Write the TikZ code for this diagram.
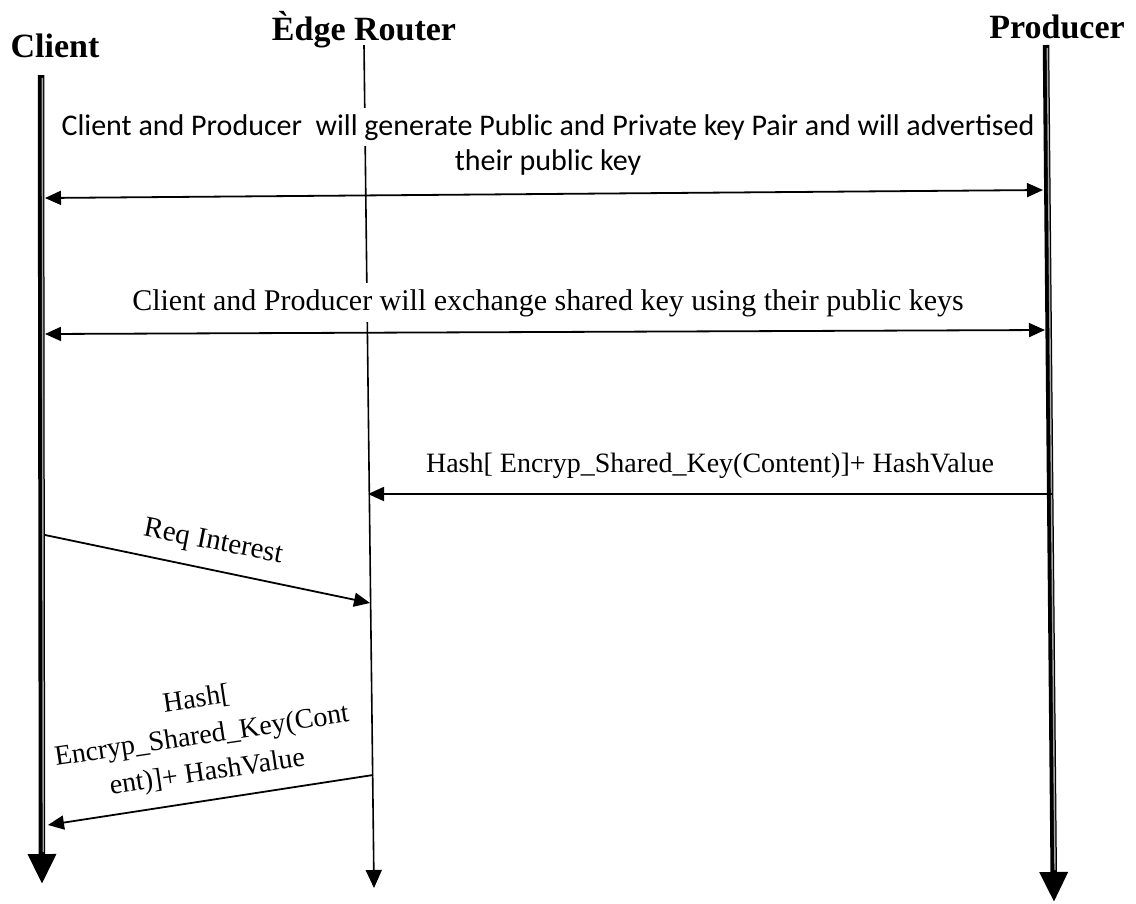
\documentclass[tikz,border=0pt]{standalone}
\usepackage{fontspec}
\setmainfont{Liberation Serif}
\newfontfamily\calfont{Carlito}
\usetikzlibrary{arrows.meta,calc}
\tikzset{
  title/.style={font=\fontsize{34}{40}\selectfont\bfseries, inner sep=0pt},
  lifeline/.style={line width=6.5pt, -{Triangle[width=27pt,length=30pt]}},
  innerline/.style={black!35, line width=1.4pt},
  midline/.style={line width=1.6pt, -{Triangle[width=16pt,length=18pt]}},
  msg/.style={line width=1.8pt},
  tipR/.style={-{Triangle[width=14pt,length=16pt]}},
  tipL/.style={{Triangle[width=14pt,length=16pt]}-},
  tipLR/.style={{Triangle[width=14pt,length=16pt]}-{Triangle[width=14pt,length=16pt]}},
  sanslabel/.style={font=\calfont\fontsize{30}{36}\selectfont, fill=white, align=center, inner xsep=2pt, inner ysep=6pt},
  seriflabel/.style={font=\fontsize{30}{37}\selectfont, fill=white, align=center, inner xsep=2pt, inner ysep=6pt},
  plainlabel/.style={font=\fontsize{28}{37}\selectfont, align=center, inner sep=1pt}
}
\begin{document}
\begin{tikzpicture}[x=1pt,y=-1pt]
\useasboundingbox[fill=white] (0,0) rectangle (1136,903);
% titles
\node[title, anchor=base] (client) at (55,57) {Client};
\node[title, anchor=base] (edge) at (364,40) {Èdge Router};
\node[title, anchor=base] (prod) at (1057,38) {Producer};
% lifeline ends
\coordinate (cT) at (41,75);
\coordinate (cB) at (42,884);
\coordinate (eT) at (364,45);
\coordinate (eB) at (374,888);
\coordinate (pT) at (1046,45);
\coordinate (pB) at (1054,902);
% edge router lifeline (under the labels)
\draw[midline] (eT) -- (eB);
% labels
\node[sanslabel, anchor=base] (t1) at (548,135) {Client and Producer\ \ will generate Public and Private key Pair and will advertised};
\node[sanslabel, anchor=base, inner ysep=8pt] (t1b) at (548,170) {their public key};
\node[seriflabel, anchor=base] (t2) at (548,310) {Client and Producer will exchange shared key using their public keys};
\node[plainlabel, anchor=base] (t3) at (710,472) {Hash[ Encryp\_Shared\_Key(Content)]+ HashValue};
\node[plainlabel, rotate=-11, font=\fontsize{29}{37}\selectfont] (t4) at (213,543) {Req Interest};
\node[plainlabel, rotate=8.5, align=center] (t5) at (202,737) {Hash[\\Encryp\_Shared\_Key(Cont\\ent)]+ HashValue};
% client and producer lifelines
\draw[lifeline] (cT) -- (cB);
\draw[innerline, shorten >=32pt, shorten <=3pt] ($(cT)+(1.3,0)$) -- ($(cB)+(1.3,0)$);
\draw[lifeline] (pT) -- (pB);
\draw[innerline, shorten >=32pt, shorten <=3pt] ($(pT)+(1.3,0)$) -- ($(pB)+(1.3,0)$);
% message end points
\coordinate (m1L) at (45,198);
\coordinate (m1R) at (1043,190);
\coordinate (m2L) at (45,334);
\coordinate (m2R) at (1045,330);
\coordinate (m3R) at (1052,494);
\coordinate (m3L) at (368,494);
\coordinate (m4L) at (45,535);
\coordinate (m4R) at (370,603);
\coordinate (m5R) at (373,775);
\coordinate (m5L) at (48,825);
% messages
\draw[msg, tipLR] (m1L) -- (m1R);
\draw[msg, tipLR] (m2L) -- (m2R);
\draw[msg, tipR] (m3R) -- (m3L);
\draw[msg, tipR] (m4L) -- (m4R);
\draw[msg, tipR] (m5R) -- (m5L);
\end{tikzpicture}
\end{document}
